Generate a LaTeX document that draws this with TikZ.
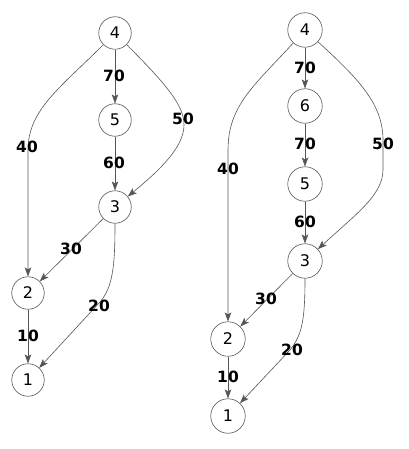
\documentclass[tikz,border=0pt]{standalone}
\usepackage{fontspec}
\setmainfont{DejaVu Sans}
\usetikzlibrary{arrows.meta}
\definecolor{edgegray}{RGB}{85,85,85}
\tikzset{
  vert/.style={circle, draw=edgegray, line width=0.6pt, minimum size=32.5pt, inner sep=0pt,
    font=\fontsize{16}{16}\selectfont},
  bigvert/.style={vert, minimum size=34.5pt},
  wt/.style={inner sep=0pt, font=\bfseries\fontsize{15.5}{15.5}\selectfont},
  arc/.style={draw=edgegray, line width=0.6pt, -{Stealth[length=9pt,width=6.5pt,inset=2pt]}}
}

\begin{document}
\begin{tikzpicture}[x=1pt, y=-1pt]
  \useasboundingbox (0,0) rectangle (408,449);
  % left tree
  \node[vert] (l4) at (115,33) {4};
  \node[vert] (l5) at (115,120) {5};
  \node[vert] (l3) at (115,207) {3};
  \node[vert] (l2) at (28,293) {2};
  \node[vert] (l1) at (28,380) {1};
  \draw[arc] (l4) -- (l5);
  \draw[arc] (l5) -- (l3);
  \draw[arc] (l4) .. controls (60,88) and (28,110) .. (28,150) -- (l2);
  \draw[arc] (l4) .. controls (168,86) and (184,106) .. (184,125)
    .. controls (184,147) and (160,170) .. (l3);
  \draw[arc] (l3) -- (l2);
  \draw[arc] (l3) .. controls (115,265) and (113,287) .. (100,302) -- (l1);
  \draw[arc] (l2) -- (l1);
  \node[wt] (lw45) at (114,76) {70};
  \node[wt] (lw53) at (114,163) {60};
  \node[wt] (lw42) at (27,147) {40};
  \node[wt] (lw43) at (183,119) {50};
  \node[wt] (lw32) at (71,249) {30};
  \node[wt] (lw31) at (99,306) {20};
  \node[wt] (lw21) at (28,336) {10};
  % right tree
  \node[bigvert] (r4) at (305,30) {4};
  \node[bigvert] (r6) at (305,106) {6};
  \node[bigvert] (r5) at (305,184) {5};
  \node[bigvert] (r3) at (305,261) {3};
  \node[bigvert] (r2) at (228,339) {2};
  \node[bigvert] (r1) at (228,416) {1};
  \draw[arc] (r4) -- (r6);
  \draw[arc] (r6) -- (r5);
  \draw[arc] (r5) -- (r3);
  \draw[arc] (r4) .. controls (255,85) and (228,105) .. (228,150) -- (r2);
  \draw[arc] (r4) .. controls (360,80) and (383,105) .. (383,140) -- (383,170)
    .. controls (383,195) and (355,215) .. (r3);
  \draw[arc] (r3) -- (r2);
  \draw[arc] (r3) .. controls (305,320) and (302,335) .. (290,350) -- (r1);
  \draw[arc] (r2) -- (r1);
  \node[wt] (rw46) at (305,68) {70};
  \node[wt] (rw65) at (305,144) {70};
  \node[wt] (rw53) at (305,222) {60};
  \node[wt] (rw42) at (228,169) {40};
  \node[wt] (rw43) at (383,144) {50};
  \node[wt] (rw32) at (266,299) {30};
  \node[wt] (rw31) at (292,350) {20};
  \node[wt] (rw21) at (228,377) {10};
\end{tikzpicture}
\end{document}
